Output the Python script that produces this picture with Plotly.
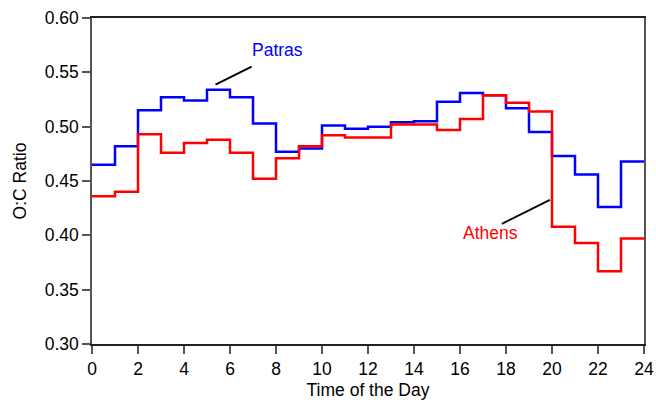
import plotly.graph_objects as go

hours = list(range(0, 25))
patras = [0.465, 0.482, 0.515, 0.527, 0.524, 0.534, 0.527, 0.503, 0.477, 0.480,
          0.501, 0.498, 0.500, 0.504, 0.505, 0.523, 0.531, 0.529, 0.517, 0.495,
          0.473, 0.456, 0.426, 0.468]
athens = [0.436, 0.440, 0.493, 0.476, 0.485, 0.488, 0.476, 0.452, 0.471, 0.482,
          0.492, 0.490, 0.490, 0.502, 0.502, 0.497, 0.507, 0.529, 0.522, 0.514,
          0.408, 0.393, 0.367, 0.397]
x_ticks = list(range(0, 25, 2))
y_ticks = [0.30, 0.35, 0.40, 0.45, 0.50, 0.55, 0.60]

FONT = "Liberation Sans, Arial, sans-serif"
FS = 17.5

fig = go.Figure()
fig.add_trace(go.Scatter(x=hours, y=patras + patras[-1:], mode="lines",
                         line=dict(color="#0000FF", width=2.5, shape="hv"),
                         name="Patras", hoverinfo="skip"))
fig.add_trace(go.Scatter(x=hours, y=athens + athens[-1:], mode="lines",
                         line=dict(color="#FF0000", width=2.5, shape="hv"),
                         name="Athens", hoverinfo="skip"))

# annotation leader lines
fig.add_shape(type="line", x0=5.37, y0=0.5386, x1=6.94, y1=0.5552,
              line=dict(color="black", width=2))
fig.add_shape(type="line", x0=17.82, y0=0.4106, x1=19.91, y1=0.4327,
              line=dict(color="black", width=2))
fig.add_annotation(x=8.07, y=0.5708, text="Patras", showarrow=False,
                   font=dict(family=FONT, size=FS, color="#0000FF"))
fig.add_annotation(x=17.34, y=0.4023, text="Athens", showarrow=False,
                   font=dict(family=FONT, size=FS, color="#FF0000"))

fig.update_layout(
    width=656, height=405,
    margin=dict(l=92, r=12, t=18, b=61),
    paper_bgcolor="white", plot_bgcolor="white",
    showlegend=False,
    font=dict(family=FONT, size=FS, color="black"),
    xaxis=dict(range=[0, 24], tickvals=x_ticks, ticktext=[str(v) for v in x_ticks],
               showgrid=False, zeroline=False, showline=True, mirror=True,
               linecolor="#222222", linewidth=1.5, automargin=False,
               ticks="outside", ticklen=8, tickwidth=1.5, tickcolor="#555555",
               tickfont=dict(size=FS),
               title=dict(text="Time of the Day", standoff=6, font=dict(size=FS))),
    yaxis=dict(range=[0.30, 0.60], tickvals=y_ticks,
               ticktext=[f"{v:.2f}" for v in y_ticks],
               showgrid=False, zeroline=False, showline=True, mirror=True,
               linecolor="#555555", linewidth=1.5, automargin=False,
               ticks="outside", ticklen=8, tickwidth=1.5, tickcolor="#555555",
               tickfont=dict(size=FS),
               title=dict(text="O:C Ratio", standoff=14, font=dict(size=FS))),
)

fig.write_html("out.html")
